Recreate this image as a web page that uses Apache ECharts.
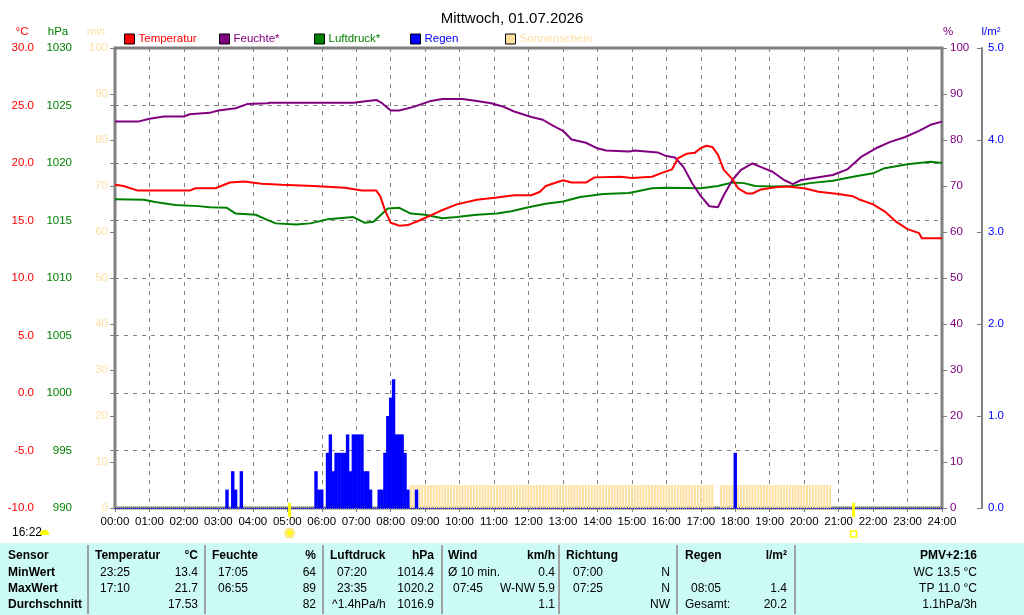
<!DOCTYPE html>
<html><head><meta charset="utf-8">
<script src="https://cdn.jsdelivr.net/npm/echarts@6/dist/echarts.min.js"></script>
<style>html,body{margin:0;padding:0;background:#fff}#c{width:1024px;height:615px}</style>
</head><body><div id="c"></div>
<script>
const FONT = "'Liberation Sans', Arial, sans-serif";

// ---- tick labels ----
const hourLabels = ['00:00','01:00','02:00','03:00','04:00','05:00','06:00','07:00','08:00','09:00','10:00','11:00','12:00',
  '13:00','14:00','15:00','16:00','17:00','18:00','19:00','20:00','21:00','22:00','23:00','24:00'];

// ---- Temperatur (°C) ----
const tempTimes = ['00:00','00:15','00:40','01:30','02:10','02:20','02:55','03:20','03:45','04:15','04:50','05:45','06:40','07:10','07:35','07:42','07:50','08:00','08:15','08:30','08:50','09:25','09:55','10:30','11:05','11:35','12:05','12:20','12:30','13:00','13:15','13:40','13:55','14:40','15:00','15:35','15:50','16:10','16:20','16:35','16:50','17:00','17:10','17:20','17:30','17:40','17:55','18:05','18:20','18:30','18:45','19:10','19:30','20:00','20:25','21:00','21:25','21:35','22:00','22:20','22:40','23:00','23:20','23:25','24:00'];
const tempValues = [18.1,18.0,17.6,17.6,17.6,17.8,17.8,18.3,18.4,18.2,18.1,18.0,17.85,17.6,17.6,17.1,15.9,14.8,14.55,14.6,15.0,15.8,16.4,16.8,17.0,17.2,17.2,17.5,18.0,18.5,18.3,18.3,18.75,18.8,18.7,18.8,19.1,19.45,20.4,20.8,20.9,21.3,21.5,21.4,20.7,19.4,18.6,17.8,17.35,17.35,17.7,17.9,17.95,17.8,17.5,17.3,17.1,16.85,16.4,15.8,14.9,14.25,13.9,13.45,13.45];

// ---- Feuchte (%) ----
const humTimes = ['00:00','00:40','01:00','01:25','02:00','02:10','02:45','03:00','03:30','03:50','04:25','04:30','06:55','07:20','07:35','07:45','08:00','08:15','08:40','09:10','09:30','10:05','10:30','10:55','11:15','11:35','12:05','12:25','12:40','13:00','13:15','13:40','14:00','14:15','14:55','15:05','15:45','16:00','16:15','16:30','16:45','17:00','17:15','17:30','17:40','17:55','18:10','18:30','18:45','19:05','19:25','19:40','19:55','20:25','20:50','21:15','21:40','22:05','22:30','22:55','23:20','23:40','24:00'];
const humValues = [84.0,84.0,84.6,85.1,85.1,85.6,85.9,86.4,86.9,87.8,88.0,88.1,88.1,88.5,88.7,88.0,86.4,86.4,87.2,88.5,88.9,88.9,88.5,88.0,87.3,86.2,85.0,84.4,83.3,82.0,80.1,79.4,78.2,77.7,77.5,77.7,77.3,76.5,76.2,74.1,70.6,67.8,65.6,65.4,68.0,71.3,73.5,74.9,74.1,73.1,71.3,70.4,71.3,71.9,72.4,73.6,76.4,78.2,79.6,80.6,82.0,83.3,84.0];

// ---- Luftdruck (hPa) ----
const presTimes = ['00:00','00:50','01:10','01:45','02:25','02:45','03:15','03:30','04:05','04:25','04:40','05:15','05:40','06:10','06:55','07:15','07:30','07:55','08:15','08:35','09:00','09:30','09:55','10:30','11:05','11:30','12:00','12:30','13:00','13:30','14:10','14:55','15:35','16:00','17:00','17:30','17:55','18:15','18:35','19:05','19:40','20:10','20:50','21:25','22:00','22:20','23:00','23:40','24:00'];
const presValues = [1016.85,1016.8,1016.6,1016.35,1016.25,1016.15,1016.1,1015.6,1015.5,1015.05,1014.75,1014.65,1014.75,1015.1,1015.3,1014.8,1014.9,1016.05,1016.1,1015.6,1015.5,1015.2,1015.3,1015.5,1015.6,1015.8,1016.15,1016.45,1016.65,1017.05,1017.3,1017.4,1017.8,1017.85,1017.8,1018.0,1018.3,1018.25,1018.0,1017.95,1018.0,1018.25,1018.45,1018.8,1019.1,1019.55,1019.9,1020.1,1020.0];

// ---- Regen (l/m² per 5 min) ----
const rainTimes = ['03:15','03:25','03:30','03:40','05:50','05:55','06:00','06:10','06:15','06:20','06:25','06:30','06:35','06:40','06:45','06:50','06:55','07:00','07:05','07:10','07:15','07:20','07:25','07:40','07:45','07:50','07:55','08:00','08:05','08:10','08:15','08:20','08:25','08:30','08:45','18:00'];
const rainValues = [0.2,0.4,0.2,0.4,0.4,0.2,0.2,0.6,0.8,0.4,0.6,0.6,0.6,0.6,0.8,0.4,0.8,0.8,0.8,0.8,0.4,0.4,0.2,0.2,0.2,0.6,1.0,1.2,1.4,0.8,0.8,0.8,0.6,0.2,0.2,0.6];

// ---- Sonnenschein (min per 5 min), first slot 08:35, slots every 5 min ----
const sunStart = '08:35';
const sunValues = [
  5,5,5,5,5,
  5,5,5,5,5,5,5,5,5,5,5,5,
  5,5,5,5,5,5,5,5,5,5,5,5,
  5,5,5,5,5,5,5,5,5,5,5,5,
  5,5,5,5,5,5,5,5,5,5,5,5,
  5,5,5,5,5,5,5,5,5,5,5,5,
  5,5,5,5,5,5,5,5,5,5,5,5,
  5,5,5,5,5,5,5,5,5,5,5,5,
  5,5,5,5,5,5,5,5,5,5,5,5,
  5,5,5,5,5,0,0,5,5,5,5,5,
  5,5,5,5,5,5,5,5,5,5,5,5,
  5,5,5,5,5,5,5,5,5,5,5,5,
  5,5,5,5,5,5,5,5,5,5
];

const sunrise = '05:04', sunset = '21:26', dayLength = '16:22';

// ---- table ----
const tableCols = [88,205,323,442,559,677,795];
const tableRows = [556,573,589,605];
const tableCells = [
  [8,0,'Sensor','left',1],[95,0,'Temperatur','left',1],[198,0,'°C','right',1],[212,0,'Feuchte','left',1],[316,0,'%','right',1],
  [330,0,'Luftdruck','left',1],[434,0,'hPa','right',1],[448,0,'Wind','left',1],[555,0,'km/h','right',1],[566,0,'Richtung','left',1],
  [685,0,'Regen','left',1],[787,0,'l/m²','right',1],[977,0,'PMV+2:16','right',1],
  [8,1,'MinWert','left',1],[100,1,'23:25','left',0],[198,1,'13.4','right',0],[218,1,'17:05','left',0],[316,1,'64','right',0],
  [337,1,'07:20','left',0],[434,1,'1014.4','right',0],[448,1,'Ø 10 min.','left',0],[555,1,'0.4','right',0],[573,1,'07:00','left',0],
  [670,1,'N','right',0],[977,1,'WC 13.5 °C','right',0],
  [8,2,'MaxWert','left',1],[100,2,'17:10','left',0],[198,2,'21.7','right',0],[218,2,'06:55','left',0],[316,2,'89','right',0],
  [337,2,'23:35','left',0],[434,2,'1020.2','right',0],[453,2,'07:45','left',0],[555,2,'W-NW 5.9','right',0],[573,2,'07:25','left',0],
  [670,2,'N','right',0],[691,2,'08:05','left',0],[787,2,'1.4','right',0],[977,2,'TP 11.0 °C','right',0],
  [8,3,'Durchschnitt','left',1],[198,3,'17.53','right',0],[316,3,'82','right',0],[332,3,'^1.4hPa/h','left',0],[434,3,'1016.9','right',0],
  [555,3,'1.1','right',0],[670,3,'NW','right',0],[685,3,'Gesamt:','left',0],[787,3,'20.2','right',0],[977,3,'1.1hPa/3h','right',0]
];

function toMin(s){const p=s.split(':');return (+p[0])*60+(+p[1]);}
function pair(ts,vs){return ts.map((t,i)=>[toMin(t),vs[i]]);}
const sunData = sunValues.map((v,i)=>[toMin(sunStart)+i*5,v]);

const GRAY = '#808080';
const SUNC = '#FFDFA0';
const dashed = {show:true, lineStyle:{color:GRAY, type:[4,5], width:1}};
const lbl = (c,m,f)=>({color:c, fontSize:11.5, fontFamily:FONT, margin:m, formatter:f || (v=>String(v))});

const chart = echarts.init(document.getElementById('c'), null, {renderer:'canvas'});

const graphics = [];
graphics.push({type:'rect', shape:{x:0,y:543,width:1024,height:72}, style:{fill:'#CCFAF6'}, z:0});
tableCols.forEach(x=>graphics.push({type:'line', shape:{x1:x,y1:545,x2:x,y2:614}, style:{stroke:'#A0A0A0', lineWidth:2}, z:1}));
tableCells.forEach(c=>graphics.push({type:'text', x:c[0], y:tableRows[c[1]], style:{text:c[2], textAlign:c[3], textVerticalAlign:'middle', fill:'#000', font:(c[4]?'bold ':'')+'12px '+FONT}, z:2}));
// units
[['°C',22,'#FF0000'],['hPa',58,'#008000'],['min',96,SUNC],['%',948,'#800080'],['l/m²',991,'#0000FF']].forEach(u=>
  graphics.push({type:'text', x:u[1], y:32, style:{text:u[0], textAlign:'center', textVerticalAlign:'middle', fill:u[2], font:'11.5px '+FONT}}));
graphics.push({type:'text', x:12, y:533, style:{text:dayLength, textAlign:'left', textVerticalAlign:'middle', fill:'#000', font:'12px '+FONT}});
graphics.push({type:'rect', shape:{x:40,y:530,width:9,height:5,r:[4,4,0,0]}, style:{fill:'#FFFF00'}});

chart.setOption({
  animation:false,
  backgroundColor:'#fff',
  title:{text:'Mittwoch, 01.07.2026', left:'center', top:6, textStyle:{fontSize:15, fontWeight:'normal', color:'#000', fontFamily:FONT}},
  legend:[
    ['Temperatur',124,'#FF0000'],['Feuchte*',219,'#800080'],['Luftdruck*',314,'#008000'],['Regen',410,'#0000FF'],['Sonnenschein',505,SUNC]
  ].map(l=>({data:[l[0]], left:l[1], top:33, padding:0, icon:'rect', itemWidth:10, itemHeight:10, itemGap:4,
     itemStyle:{borderColor:'#000', borderWidth:1}, textStyle:{color:l[2], fontSize:11.5, fontFamily:FONT, padding:[0,0,0,-1]}, selectedMode:false})),
  grid:{left:115, right:82, top:48, bottom:107, show:true, borderColor:GRAY, borderWidth:3, backgroundColor:'transparent'},
  xAxis:[
    {type:'value', min:0, max:1440, interval:60,
     axisLine:{show:true, onZero:false, lineStyle:{color:GRAY, width:2}}, axisTick:{show:true, length:4, lineStyle:{color:GRAY}},
     axisLabel:lbl('#000',8,v=>hourLabels[v/60]), splitLine:dashed},
    {type:'value', min:0, max:1440, show:false, axisLine:{onZero:false}}
  ],
  yAxis:[
    {type:'value', position:'left', offset:74, min:-10, max:30, interval:5,
     axisLine:{show:true, lineStyle:{color:GRAY, width:2}}, axisTick:{show:true, length:5, lineStyle:{color:GRAY}},
     axisLabel:lbl('#FF0000',7,v=>v.toFixed(1)), splitLine:dashed},
    {type:'value', position:'left', offset:37, min:990, max:1030, interval:5,
     axisLine:{show:true, lineStyle:{color:GRAY, width:2}}, axisTick:{show:true, length:5, lineStyle:{color:GRAY}},
     axisLabel:lbl('#008000',6), splitLine:{show:false}},
    {type:'value', position:'left', offset:0, min:0, max:100, interval:10,
     axisLine:{show:false}, axisTick:{show:true, length:5, lineStyle:{color:GRAY}},
     axisLabel:lbl(SUNC,7), splitLine:{show:false}},
    {type:'value', position:'right', offset:0, min:0, max:100, interval:10,
     axisLine:{show:false}, axisTick:{show:true, length:5, lineStyle:{color:GRAY}},
     axisLabel:lbl('#800080',8), splitLine:{show:false}},
    {type:'value', position:'right', offset:40, min:0, max:5, interval:1,
     axisLine:{show:true, lineStyle:{color:GRAY, width:2}}, axisTick:{show:true, inside:true, length:5, lineStyle:{color:GRAY}},
     axisLabel:lbl('#0000FF',6,v=>v.toFixed(1)), splitLine:{show:false}}
  ],
  series:[
    {name:'Sonnenschein', type:'bar', xAxisIndex:1, yAxisIndex:2, data:sunData, barWidth:2, itemStyle:{color:SUNC}, z:1},
    {name:'Regen', type:'bar', xAxisIndex:0, yAxisIndex:4, data:pair(rainTimes,rainValues), barWidth:3.4, itemStyle:{color:'#0000FF'}, z:2,
     markLine:{silent:true, symbol:'none', label:{show:false}, lineStyle:{color:'#0000FF', type:'dotted', width:1}, data:[{yAxis:0}]}},
    {name:'Luftdruck*', type:'line', yAxisIndex:1, data:pair(presTimes,presValues), showSymbol:false, lineStyle:{width:2, color:'#008000'}, itemStyle:{color:'#008000'}, z:3},
    {name:'Feuchte*', type:'line', yAxisIndex:3, data:pair(humTimes,humValues), showSymbol:false, lineStyle:{width:2, color:'#800080'}, itemStyle:{color:'#800080'}, z:4},
    {name:'Temperatur', type:'line', yAxisIndex:0, data:pair(tempTimes,tempValues), showSymbol:false, lineStyle:{width:2, color:'#FF0000'}, itemStyle:{color:'#FF0000'}, z:5}
  ],
  graphic:graphics
});

// sunrise / sunset markers positioned through the x scale
const xr = chart.convertToPixel({xAxisIndex:0}, toMin(sunrise));
const xs = chart.convertToPixel({xAxisIndex:0}, toMin(sunset));
graphics.push({type:'rect', shape:{x:xr-1.5,y:503,width:3,height:14}, style:{fill:'#FFFF00'}, z:10});
graphics.push({type:'circle', shape:{cx:xr,cy:533,r:4}, style:{fill:'#FFFF00', stroke:'#FFEA80', lineWidth:3}, z:10});
graphics.push({type:'rect', shape:{x:xs-1.5,y:503,width:3,height:14}, style:{fill:'#FFFF00'}, z:10});
graphics.push({type:'rect', shape:{x:xs-3,y:531,width:6,height:6}, style:{fill:'none', stroke:'#FFFF00', lineWidth:1.5}, z:10});
chart.setOption({graphic:graphics});
</script></body></html>
